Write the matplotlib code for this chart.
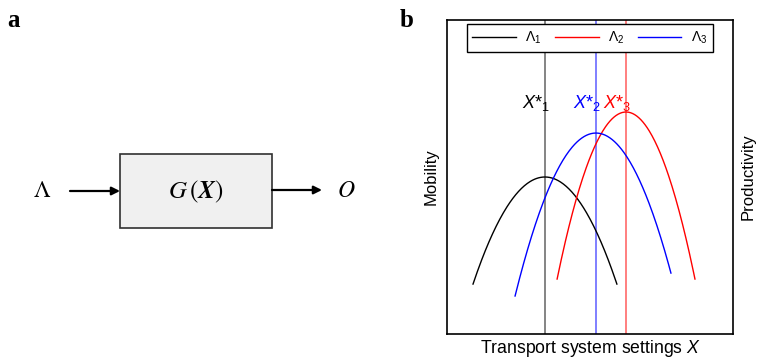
import matplotlib

matplotlib.use("Agg")

import matplotlib.pyplot as plt
import numpy as np
from matplotlib.patches import Rectangle

plt.rcParams["font.family"] = ["Liberation Sans", "DejaVu Sans"]
plt.rcParams["mathtext.fontset"] = "custom"
plt.rcParams["mathtext.rm"] = "Liberation Sans"
plt.rcParams["mathtext.it"] = "Liberation Sans:italic"
plt.rcParams["mathtext.bf"] = "Liberation Sans:bold"

# optimum settings X*_k for each demand level, and the response curves
labels = ["Λ$_1$", "Λ$_2$", "Λ$_3$"]
colors = ["black", "red", "blue"]
opt_x = [3.43, 6.26, 5.21]
peak_y = [5.0, 7.07, 6.4]
left_x = [0.91, 3.85, 2.38]
left_y = [1.59, 1.75, 1.21]
right_x = [5.94, 8.67, 7.83]
right_y = [1.59, 1.75, 1.94]
opt_labels = [r"$X$*$_{1}$", r"$X$*$_{3}$", r"$X$*$_{2}$"]
line_colors = ["#707070", "#ff6a6a", "#6a6aff"]

fig = plt.figure(figsize=(7.57, 3.6), dpi=100)

# --- panel a: block diagram, drawn in pixel units ---
ax_a = fig.add_axes([0, 0, 400 / 757, 1])
ax_a.set_xlim(0, 400)
ax_a.set_ylim(360, 0)
ax_a.axis("off")

ax_a.add_patch(Rectangle((120, 154), 152, 74, facecolor="#f0f0f0",
                         edgecolor="#303030", linewidth=1.2))
ax_a.text(196, 192, r"$G\,(\boldsymbol{X})$", ha="center", va="center",
          fontsize=18, math_fontfamily="stix")
ax_a.text(42, 191, r"$\Lambda$", ha="center", va="center",
          fontsize=17, math_fontfamily="stix")
ax_a.text(346, 191, r"$O$", ha="center", va="center",
          fontsize=17, math_fontfamily="stix")
arrow = dict(arrowstyle="-|>", color="black", lw=1.6, mutation_scale=12,
             shrinkA=0, shrinkB=0)
ax_a.annotate("", xy=(120, 191), xytext=(70, 191), arrowprops=arrow)
ax_a.annotate("", xy=(322, 190), xytext=(272, 190), arrowprops=arrow)
fig.text(7 / 757, 1 - 27 / 360, "a", fontsize=18, fontweight="bold",
         family="Liberation Serif")
fig.text(400 / 757, 1 - 27 / 360, "b", fontsize=18, fontweight="bold",
         family="Liberation Serif")

# --- panel b: mobility / productivity curves ---
ax = fig.add_axes([447 / 757, 1 - 334 / 360, 286 / 757, 314 / 360])
ax.set_xlim(0, 10)
ax.set_ylim(0, 10)

for i in range(3):
    pts_x = [left_x[i], opt_x[i], right_x[i]]
    pts_y = [left_y[i], peak_y[i], right_y[i]]
    coef = np.polyfit(pts_x, pts_y, 2)
    xs = np.linspace(left_x[i], right_x[i], 200)
    ax.plot(xs, np.polyval(coef, xs), color=colors[i], lw=1, label=labels[i])
    ax.axvline(opt_x[i], color=line_colors[i], lw=1.2, zorder=1)
    ax.text(opt_x[i] + 0.17, 7.36, opt_labels[i], color=colors[i],
            ha="right", va="center", fontsize=13)

leg = ax.legend(loc="upper center", ncol=3, fontsize=10, frameon=True,
                fancybox=False, framealpha=1, edgecolor="black",
                handlelength=3.1, borderaxespad=0.3, columnspacing=1.0,
                handletextpad=0.7)
leg.get_frame().set_linewidth(1)

ax.set_xticks([])
ax.set_yticks([])
ax.set_xlabel("Transport system settings $X$", fontsize=12.7, labelpad=3)
ax.set_ylabel("Mobility", fontsize=12, labelpad=6)
ax.text(1.025, 0.5, "Productivity", rotation=90, transform=ax.transAxes,
        ha="left", va="center", fontsize=12)
for spine in ax.spines.values():
    spine.set_linewidth(1.2)

fig.savefig("out.png", dpi=100)
